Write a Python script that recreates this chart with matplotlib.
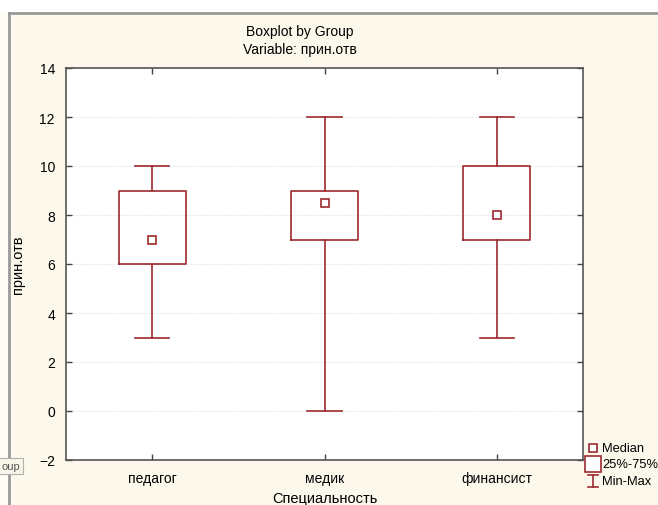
import matplotlib.pyplot as plt
from matplotlib.lines import Line2D
from matplotlib.patches import Rectangle

plt.rcParams['font.family'] = ['Liberation Sans', 'DejaVu Sans']

groups = ["педагог", "медик", "финансист"]
medians = [7, 8.5, 8]
q1 = [6, 7, 7]
q3 = [9, 9, 10]
mins = [3, 0, 3]
maxs = [10, 12, 12]
yticks = [-2, 0, 2, 4, 6, 8, 10, 12, 14]

red = '#9E2A2F'
cream = '#FCF8EC'

fig = plt.figure(figsize=(6.58, 5.06), dpi=100)
fig.patch.set_facecolor(cream)

# screenshot frame bits
fig.patches.append(Rectangle((0, 1 - 13 / 506), 1, 13 / 506, transform=fig.transFigure,
                             facecolor='white', edgecolor='none', zorder=0))
fig.patches.append(Rectangle((0, 0), 9 / 658, 1 - 13 / 506, transform=fig.transFigure,
                             facecolor='#FEFCF7', edgecolor='none', zorder=0))
fig.lines.append(Line2D([9 / 658, 1], [1 - 14 / 506, 1 - 14 / 506], transform=fig.transFigure,
                        color='#9A9A9A', lw=2))
fig.lines.append(Line2D([9 / 658, 9 / 658], [0, 1 - 14 / 506], transform=fig.transFigure,
                        color='#9A9A9A', lw=2))

ax = fig.add_axes([66 / 658, 45 / 506, 517 / 658, 392 / 506])
ax.set_facecolor('white')

stats = []
for i in range(len(groups)):
    stats.append({'med': medians[i], 'mean': medians[i], 'q1': q1[i], 'q3': q3[i],
                  'whislo': mins[i], 'whishi': maxs[i], 'fliers': [], 'label': groups[i]})

ax.bxp(stats, positions=range(len(groups)), widths=0.39, capwidths=0.2,
       showmeans=True, showfliers=False,
       boxprops=dict(color=red, lw=1.2),
       whiskerprops=dict(color=red, lw=1.2),
       capprops=dict(color=red, lw=1.2),
       medianprops=dict(visible=False),
       meanprops=dict(marker='s', markersize=5.5, markerfacecolor='white',
                      markeredgecolor=red, markeredgewidth=1.2))

ax.set_xlim(-0.5, 2.5)
ax.set_ylim(-2, 14)
ax.set_yticks(yticks)
ax.set_xticks(range(len(groups)))
ax.set_xticklabels(groups, fontsize=10)
ax.tick_params(axis='both', direction='in', top=True, right=True, length=4,
               width=1, color='#444444', labelsize=10, pad=8)
ax.yaxis.grid(True, color='#E4E4E4', lw=0.8, ls=(0, (1, 1)))
ax.set_axisbelow(True)
for s in ax.spines.values():
    s.set_color('#555555')
    s.set_linewidth(1.2)

ax.set_xlabel('Специальность', fontsize=10.5, labelpad=4)
ax.set_ylabel('прин.отв', fontsize=10.5, labelpad=10)

fig.text(300 / 658, 1 - 32 / 506, 'Boxplot by Group', ha='center', va='center', fontsize=10)
fig.text(300 / 658, 1 - 50 / 506, 'Variable: прин.отв', ha='center', va='center', fontsize=10)

# legend
lx = 593 / 658
fig.lines.append(Line2D([lx], [1 - 449 / 506], marker='s', markersize=5.5, markerfacecolor='white',
                        markeredgecolor=red, markeredgewidth=1.2, transform=fig.transFigure))
fig.lines.append(Line2D([lx], [1 - 465 / 506], marker='s', markersize=11, markerfacecolor='white',
                        markeredgecolor=red, markeredgewidth=1.2, transform=fig.transFigure))
fig.lines.append(Line2D([lx, lx], [1 - 476 / 506, 1 - 488 / 506], color=red, lw=1.2,
                        transform=fig.transFigure))
for yy in (476, 488):
    fig.lines.append(Line2D([lx - 5 / 658, lx + 5 / 658], [1 - yy / 506, 1 - yy / 506],
                            color=red, lw=1.2, transform=fig.transFigure))
for txt, yy in (('Median', 449), ('25%-75%', 465), ('Min-Max', 482)):
    fig.text(602 / 658, 1 - yy / 506, txt, ha='left', va='center', fontsize=9.3)

# tooltip fragment at the left edge
fig.text(1 / 658, 1 - 467 / 506, 'oup', ha='left', va='center', fontsize=8, color='#555555',
         bbox=dict(boxstyle='square,pad=0.25', facecolor='#F8F6E8', edgecolor='#B0B0B0', lw=0.8))

fig.savefig('out.png', dpi=100, facecolor=fig.get_facecolor())
